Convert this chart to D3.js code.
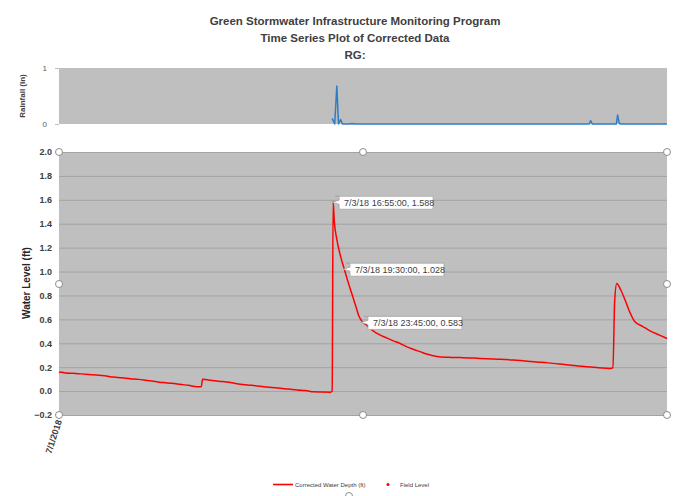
<!DOCTYPE html>
<html>
<head>
<meta charset="utf-8">
<script src="https://cdn.jsdelivr.net/npm/d3@7"></script>
<style>
body { margin: 0; background: #fff; }
text { font-family: "Liberation Sans", Arial, sans-serif; }
</style>
</head>
<body>
<script>
// hours since 7/1/2018 00:00
var depthHours = [0, 0.3, 1.5, 3.4, 5.2, 7.0, 8.9, 10.8, 12.9, 14.9, 16.9, 18.8, 20.8, 22.8, 24.8, 26.7, 28.7, 30.7, 32.7, 33.7,
  34.0, 35.1, 37.8, 40.6, 42.5, 44.6, 46.5, 48.5, 50.5, 52.5, 54.4, 56.4, 58.4, 60.4, 62.4, 64.3, 64.7,
  64.92, 65.2, 65.8, 66.6, 67.5, 68.4, 69.3, 70.3, 71.0, 71.75, 72.9, 74.4, 76.0, 77.6, 79.2, 80.8, 82.4, 83.9, 85.5, 87.1, 89.5,
  92.2, 95.0, 98.2, 101.3, 104.5, 107.6, 110.3, 113.1, 115.9, 118.7, 121.8, 125.0, 127.8, 130.5, 131.2,
  131.6, 132.1, 133.0, 134.1, 135.2, 136.4, 138.3, 140.2, 142.1, 144.0];
var depth = [0.155, 0.16, 0.152, 0.149, 0.144, 0.139, 0.134, 0.128, 0.117, 0.112, 0.103, 0.098, 0.089, 0.080, 0.071, 0.066, 0.057, 0.048, 0.037, 0.037,
  0.100, 0.094, 0.083, 0.071, 0.060, 0.051, 0.045, 0.037, 0.030, 0.023, 0.017, 0.009, 0.004, -0.006, -0.008, -0.009, 0.0,
  1.588, 1.42, 1.27, 1.14, 1.028, 0.92, 0.82, 0.71, 0.63, 0.583, 0.55, 0.504, 0.47, 0.445, 0.42, 0.398, 0.37, 0.35, 0.33, 0.31, 0.29,
  0.283, 0.28, 0.276, 0.27, 0.266, 0.26, 0.252, 0.244, 0.236, 0.226, 0.214, 0.203, 0.196, 0.19, 0.195,
  0.75, 0.90, 0.85, 0.76, 0.66, 0.58, 0.54, 0.50, 0.47, 0.44];
var labelHours = [64.92, 67.5, 71.75];

var rainHours = [64.7, 65.3, 65.8, 66.2, 66.7, 67.1, 68.8, 69.1, 69.4, 69.8, 70.1, 125.6, 125.9, 126.3, 132.0, 132.3, 132.7, 133.1, 144.0];
var rain = [0.1, 0.0, 0.68, 0.0, 0.08, 0.0, 0.0, 0.01, 0.0, 0.01, 0.0, 0.0, 0.06, 0.0, 0.0, 0.16, 0.01, 0.0, 0.0];

var depthTicks = [-0.2, 0, 0.2, 0.4, 0.6, 0.8, 1.0, 1.2, 1.4, 1.6, 1.8, 2.0];
var rainTicks = [0, 1];

var start = new Date(2018, 6, 1);
function toDate(h) { return new Date(start.getTime() + h * 3600000); }

var svg = d3.select("body").append("svg").attr("width", 676).attr("height", 496);

var x = d3.scaleTime().domain([start, toDate(144)]).range([59, 667]);
var y = d3.scaleLinear().domain([-0.2, 2.0]).range([415, 152]);
var yr = d3.scaleLinear().domain([0, 1]).range([124, 68]);

// titles
var titles = ["Green Stormwater Infrastructure Monitoring Program", "Time Series Plot of Corrected Data", "RG:"];
svg.selectAll("text.title").data(titles).enter().append("text")
  .attr("class", "title")
  .attr("x", 355).attr("y", (d, i) => 25 + i * 17)
  .attr("text-anchor", "middle")
  .style("font-size", "11.5px").style("font-weight", "bold").style("fill", "#404040")
  .text(d => d);

// rainfall panel
svg.append("rect").attr("x", 59).attr("y", 68).attr("width", 608).attr("height", 56).style("fill", "#bfbfbf");
svg.append("g").attr("transform", "translate(59,0)")
  .call(d3.axisLeft(yr).tickValues(rainTicks).tickFormat(d3.format("d")).tickSize(4).tickPadding(8))
  .call(g => g.select(".domain").remove())
  .call(g => g.selectAll("line").style("stroke", "#bfbfbf"))
  .call(g => g.selectAll("text").style("font-size", "8px").style("fill", "#595959"));
svg.append("text").attr("transform", "translate(25,96) rotate(-90)").attr("text-anchor", "middle")
  .style("font-size", "8px").style("font-weight", "bold").style("fill", "#404040").text("Rainfall (in)");
svg.append("path").datum(rainHours.map((h, i) => [h, rain[i]]))
  .attr("d", d3.line().x(d => x(toDate(d[0]))).y(d => yr(d[1])))
  .style("fill", "none").style("stroke", "#2e7dc5").style("stroke-width", 1.5).style("stroke-linejoin", "round");

// main panel
svg.append("rect").attr("x", 59).attr("y", 152).attr("width", 608).attr("height", 263).style("fill", "#bfbfbf");
svg.append("g").attr("transform", "translate(59,0)")
  .call(d3.axisLeft(y).tickValues(depthTicks).tickFormat(d3.format(".1f")).tickSize(-608).tickPadding(7))
  .call(g => g.select(".domain").remove())
  .call(g => g.selectAll("line").style("stroke", "#a3a3a3"))
  .call(g => g.selectAll("text").style("font-size", "9px").style("font-weight", "bold").style("fill", "#404040"));
svg.append("text").attr("transform", "translate(30,283) rotate(-90)").attr("text-anchor", "middle")
  .style("font-size", "10px").style("font-weight", "bold").style("fill", "#262626").text("Water Level (ft)");

svg.append("path").datum(depthHours.map((h, i) => [h, depth[i]]))
  .attr("d", d3.line().curve(d3.curveMonotoneX).x(d => x(toDate(d[0]))).y(d => y(d[1])))
  .style("fill", "none").style("stroke", "#ff0000").style("stroke-width", 1.5).style("stroke-linejoin", "round");

// x axis label
svg.append("text").attr("transform", "translate(" + (x(start) + 3) + ",421) rotate(-72)")
  .attr("text-anchor", "end").style("font-size", "9px").style("font-weight", "bold").style("fill", "#404040")
  .text(d3.timeFormat("%-m/%-d/%Y")(start));

// data labels
var fmt = d3.timeFormat("%-m/%-d/%y %H:%M:%S");
var labels = labelHours.map(h => ({ h: h, v: depth[depthHours.indexOf(h)] }));
var lg = svg.selectAll("g.dlabel").data(labels).enter().append("g").attr("class", "dlabel")
  .attr("transform", d => "translate(" + x(toDate(d.h)) + "," + y(d.v) + ")");
lg.append("path")
  .attr("d", "M3,-6 L101,-6 L101,7 L7,7 L7,2 L0,0 L7,-2 L7,-6 Z")
  .attr("transform", "translate(-1,1)")
  .style("fill", "#fff").style("stroke", "#a6a6a6").style("stroke-width", 0.8);
lg.append("text").attr("x", 11).attr("y", 4.5)
  .style("font-size", "9px").style("fill", "#404040")
  .text(d => fmt(d3.timeMinute.round(toDate(d.h))) + ", " + d.v.toFixed(3));

// selection handles
var handles = [[59, 152], [363, 152], [667, 152], [59, 284], [667, 284], [59, 415], [363, 415], [667, 415], [349, 496]];
svg.selectAll("circle.handle").data(handles).enter().append("circle")
  .attr("class", "handle").attr("cx", d => d[0]).attr("cy", d => d[1]).attr("r", 3.5)
  .style("fill", "#fff").style("stroke", "#8c8c8c").style("stroke-width", 1);

// legend
svg.append("line").attr("x1", 273).attr("x2", 293).attr("y1", 484.5).attr("y2", 484.5)
  .style("stroke", "#ff0000").style("stroke-width", 1.6);
svg.append("text").attr("x", 295).attr("y", 486.5).style("font-size", "6px").style("fill", "#404040")
  .text("Corrected Water Depth (ft)");
svg.append("circle").attr("cx", 388).attr("cy", 484.5).attr("r", 1.5).style("fill", "#ff0000");
svg.append("text").attr("x", 400).attr("y", 486.5).style("font-size", "6px").style("fill", "#404040")
  .text("Field Level");
</script>
</body>
</html>
